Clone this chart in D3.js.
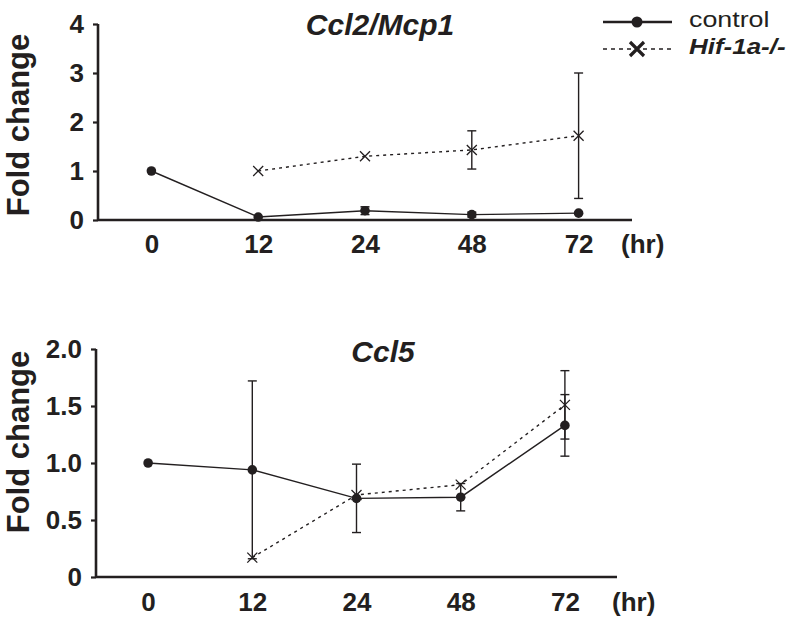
<!DOCTYPE html>
<html>
<head>
<meta charset="utf-8">
<script src="https://cdn.jsdelivr.net/npm/d3@7"></script>
<style>
  html, body { margin: 0; padding: 0; background: #fff; }
  svg { display: block; }
  text { font-family: "Liberation Sans", Arial, Helvetica, sans-serif; fill: #231f20; }
</style>
</head>
<body>
<svg id="chart" width="800" height="626"></svg>
<script>
// ---- data ----
const timepoints = ["0", "12", "24", "48", "72"];
const seriesNames = ["control", "Hif-1a-/-"];

const ccl2Control    = [1.00, 0.06, 0.19, 0.11, 0.14];
const ccl2ControlErr = [0, 0, 0.08, 0.05, 0];
const ccl2Hif        = [null, 1.00, 1.30, 1.43, 1.72];
const ccl2HifErr     = [null, 0, 0, 0.39, 1.28];
const ccl2Ticks      = [0, 1, 2, 3, 4];
const ccl2TickLabels = ["0", "1", "2", "3", "4"];

const ccl5Control    = [1.00, 0.94, 0.69, 0.70, 1.33];
const ccl5ControlErr = [0, 0.78, 0.30, 0.12, 0.27];
const ccl5Hif        = [null, 0.17, 0.72, 0.81, 1.51];
const ccl5HifErr     = [null, 0, 0, 0, 0.30];
const ccl5Ticks      = [0, 0.5, 1.0, 1.5, 2.0];
const ccl5TickLabels = ["0", "0.5", "1.0", "1.5", "2.0"];

const titles = ["Ccl2/Mcp1", "Ccl5"];
const yLabel = "Fold change";
const xUnit = "(hr)";

// ---- layout ----
const ink = "#231f20";
const svg = d3.select("#chart");

const panels = [
  { title: titles[0], control: ccl2Control, controlErr: ccl2ControlErr, hif: ccl2Hif, hifErr: ccl2HifErr,
    ticks: ccl2Ticks, tickLabels: ccl2TickLabels, domain: [0, 4],
    left: 98, right: 632, top: 24, bottom: 220, titleX: 380, titleY: 35, xLabelY: 253, unitX: 621, ylabCY: 125 },
  { title: titles[1], control: ccl5Control, controlErr: ccl5ControlErr, hif: ccl5Hif, hifErr: ccl5HifErr,
    ticks: ccl5Ticks, tickLabels: ccl5TickLabels, domain: [0, 2],
    left: 96, right: 617, top: 349, bottom: 577, titleX: 383, titleY: 362, xLabelY: 611, unitX: 612, ylabCY: 442 }
];

function xMarker(sel, size, width) {
  sel.attr("d", `M${-size},${-size}L${size},${size}M${-size},${size}L${size},${-size}`)
     .attr("fill", "none").attr("stroke", ink).attr("stroke-width", width);
}

panels.forEach(p => {
  const g = svg.append("g");
  const x = d3.scalePoint().domain(timepoints).range([p.left, p.right]).padding(0.5);
  const y = d3.scaleLinear().domain(p.domain).range([p.bottom, p.top]);

  // y axis
  const yAxis = d3.axisLeft(y).tickValues(p.ticks).tickSize(5).tickPadding(9)
    .tickFormat((d, i) => p.tickLabels[i]);
  const ya = g.append("g").attr("transform", `translate(${p.left},0)`).call(yAxis);
  ya.select(".domain").attr("d", `M0,${p.top}V${p.bottom}`).attr("stroke", ink).attr("stroke-width", 2.6);
  ya.selectAll(".tick line").attr("stroke", ink).attr("stroke-width", 2.2);
  ya.selectAll(".tick text").attr("font-size", 26).attr("font-weight", "bold").attr("fill", ink)
    .attr("font-family", "Liberation Sans, Arial, sans-serif");

  // x axis
  const xAxis = d3.axisBottom(x).tickSize(0).tickPadding(16);
  const xa = g.append("g").attr("transform", `translate(0,${p.bottom})`).call(xAxis);
  xa.select(".domain").attr("d", `M${p.left},0H${p.right}`).attr("stroke", ink).attr("stroke-width", 2.6);
  xa.selectAll(".tick text").attr("font-size", 26).attr("font-weight", "bold").attr("fill", ink)
    .attr("dy", null).attr("y", p.xLabelY - p.bottom)
    .attr("font-family", "Liberation Sans, Arial, sans-serif");

  g.append("text").attr("x", p.unitX).attr("y", p.xLabelY)
    .attr("font-size", 26).attr("font-weight", "bold").text(xUnit);

  // y label
  g.append("text").attr("transform", `translate(29,${p.ylabCY}) rotate(-90)`)
    .attr("text-anchor", "middle").attr("font-size", 31).attr("font-weight", "bold").text(yLabel);

  // title
  g.append("text").attr("x", p.titleX).attr("y", p.titleY).attr("text-anchor", "middle")
    .attr("font-size", 30).attr("font-weight", "bold").attr("font-style", "italic").text(p.title);

  const ctrl = timepoints.map((t, i) => ({ t, v: p.control[i], e: p.controlErr[i] }));
  const hif = timepoints.map((t, i) => ({ t, v: p.hif[i], e: p.hifErr[i] })).filter(d => d.v !== null);

  const line = d3.line().x(d => x(d.t)).y(d => y(d.v));

  g.append("path").datum(hif).attr("d", line).attr("fill", "none")
    .attr("stroke", ink).attr("stroke-width", 1.4).attr("stroke-dasharray", "3,4");
  g.append("path").datum(ctrl).attr("d", line).attr("fill", "none")
    .attr("stroke", ink).attr("stroke-width", 1.4);

  // error bars
  const errs = ctrl.concat(hif).filter(d => d.e > 0);
  const eg = g.selectAll(".err").data(errs).enter().append("g");
  eg.append("line").attr("x1", d => x(d.t)).attr("x2", d => x(d.t))
    .attr("y1", d => y(d.v + d.e)).attr("y2", d => y(d.v - d.e))
    .attr("stroke", ink).attr("stroke-width", 1.4);
  [1, -1].forEach(s => {
    eg.append("line").attr("x1", d => x(d.t) - 4.5).attr("x2", d => x(d.t) + 4.5)
      .attr("y1", d => y(d.v + s * d.e)).attr("y2", d => y(d.v + s * d.e))
      .attr("stroke", ink).attr("stroke-width", 1.4);
  });

  // markers
  g.selectAll(".xm").data(hif).enter().append("path")
    .attr("transform", d => `translate(${x(d.t)},${y(d.v)})`)
    .call(xMarker, 5, 1.3);
  g.selectAll(".cm").data(ctrl).enter().append("circle")
    .attr("cx", d => x(d.t)).attr("cy", d => y(d.v)).attr("r", 4.8).attr("fill", ink);
});

// legend
const lg = svg.append("g");
lg.append("line").attr("x1", 603).attr("x2", 672).attr("y1", 22).attr("y2", 22)
  .attr("stroke", ink).attr("stroke-width", 2.4);
lg.append("circle").attr("cx", 637).attr("cy", 22).attr("r", 5.5).attr("fill", ink);
lg.append("text").attr("transform", "translate(689,27) scale(1.22,1)")
  .attr("font-size", 22).text(seriesNames[0]);
lg.append("line").attr("x1", 603).attr("x2", 672).attr("y1", 49).attr("y2", 49)
  .attr("stroke", ink).attr("stroke-width", 1.6).attr("stroke-dasharray", "4,4");
lg.append("path").attr("transform", "translate(637,49)").call(xMarker, 7, 3.2);
lg.append("text").attr("transform", "translate(689,54) scale(1.18,1)").attr("font-size", 22)
  .attr("font-weight", "bold").attr("font-style", "italic").text(seriesNames[1]);
</script>
</body>
</html>
